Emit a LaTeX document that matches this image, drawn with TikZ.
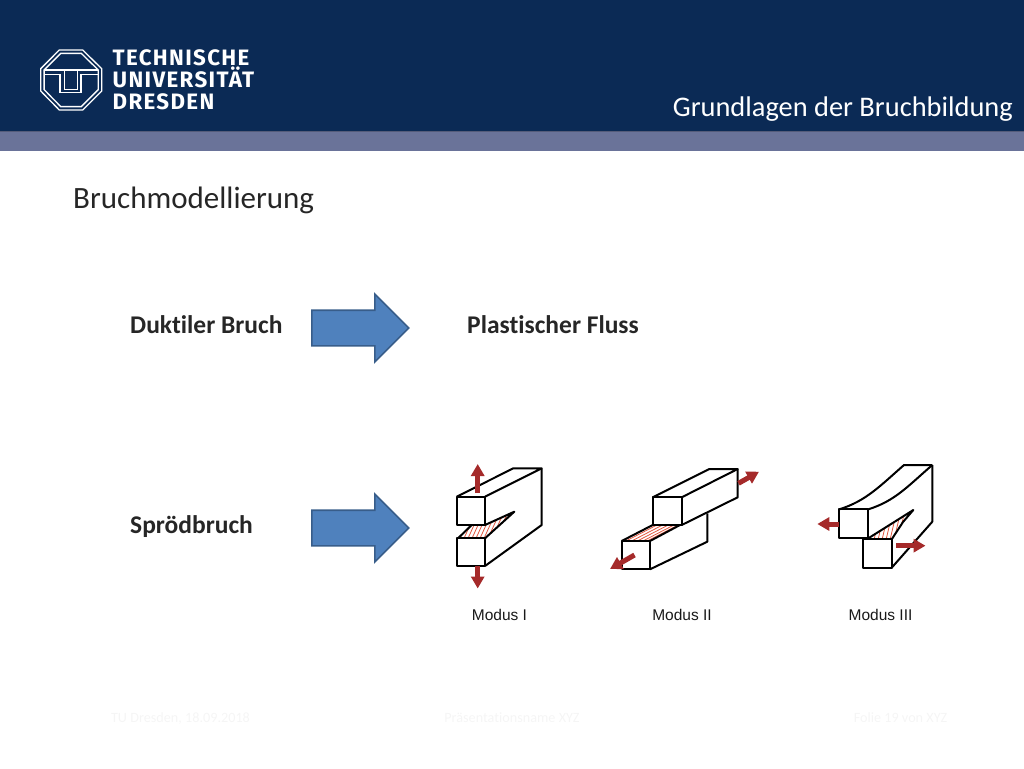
\documentclass[tikz,border=0pt]{standalone}
\usepackage{fontspec}
\setmainfont[Ligatures=CommonOff]{Carlito}
\newfontfamily\logofont[LetterSpace=6]{Fira Sans}
\newfontfamily\labelfont{Liberation Sans}
\usetikzlibrary{shapes,arrows.meta}
\definecolor{tunavy}{HTML}{0B2A55}
\definecolor{tuband}{HTML}{6A7399}
\definecolor{bluefill}{HTML}{4F81BD}
\definecolor{blueline}{HTML}{385D8A}
\definecolor{redarrow}{HTML}{A52A2A}
\definecolor{hatchred}{HTML}{E2573F}
\definecolor{textgrey}{HTML}{262626}
\tikzset{
  logoline/.style={white, line width=1.3pt},
  logotext/.style={anchor=base west, inner sep=0pt, white, font=\logofont\bfseries\fontsize{22.3}{24}\selectfont},
  slidetext/.style={anchor=base west, inner sep=0pt, textgrey, font=\fontsize{25.5}{28}\selectfont\bfseries},
  footertext/.style={anchor=base, inner sep=0pt, black!4, font=\fontsize{14.2}{16}\selectfont},
  modustext/.style={anchor=base, inner sep=0pt, black!90, font=\labelfont\fontsize{15.5}{18}\selectfont},
  bigarrow/.style={single arrow, draw=blueline, fill=bluefill, line width=1.6pt, inner xsep=0pt, inner ysep=17pt,
    minimum height=97pt, single arrow head extend=16.2pt, anchor=west},
  block/.style={black, line width=2pt, line join=round},
  hatch/.style={hatchred, line width=0.8pt},
  pull/.style={redarrow, line width=5pt, -{Triangle[length=12pt,width=13pt]}}
}
\begin{document}
\begin{tikzpicture}[x=1pt,y=-1pt]
\useasboundingbox (0,0) rectangle (1024,768);

% header
\fill [tunavy] (0,0) rectangle (1024,131);
\fill [tuband] (0,131) rectangle (1024,150.5);
\draw [tuband!80!black, line width=0.8pt] (0,131.5) -- (1024,131.5);

% logo
\draw [logoline] (59.3,50) -- (82.7,50) -- (101.7,68.7) -- (101.7,91) -- (82.7,110) -- (59.3,110) -- (40.7,91) -- (40.7,68.7) -- cycle;
\draw [logoline] (60.7,53.4) -- (81.3,53.4) -- (98.3,70) -- (98.3,89.6) -- (81.3,106.6) -- (60.7,106.6) -- (44.1,89.6) -- (44.1,70) -- cycle;
\draw [logoline] (44.1,70) -- (98.3,70);
\draw [logoline] (64.3,70) -- (64.3,89.3) -- (77.7,89.3) -- (77.7,70);
\draw [logoline] (44.1,74.3) -- (60,74.3) -- (60,92.7) -- (81,92.7) -- (81,74.3) -- (98.3,74.3);
\node [logotext] (logoa) at (112.5,66) {TECHNISCHE};
\node [logotext] (logob) at (112.5,87) {UNIVERSITÄT};
\node [logotext] (logoc) at (112.5,109.5) {DRESDEN};

\node [anchor=base east, inner sep=0pt, white, font=\fontsize{28.4}{30}\selectfont] (title) at (1013,116.5) {Grundlagen der Bruchbildung};
\node [anchor=base west, inner sep=0pt, textgrey, font=\fontsize{31}{34}\selectfont] (heading) at (73,208.5) {Bruchmodellierung};

% rows
\node [slidetext] (duktil) at (130,333.5) {Duktiler Bruch};
\node [bigarrow] (arrowa) at (311,328) {};
\node [slidetext] (fluss) at (467,333.5) {Plastischer Fluss};
\node [slidetext] (sproed) at (130,533.5) {Sprödbruch};
\node [bigarrow] (arrowb) at (311,528) {};

% Modus I
\begin{scope}
\clip (458,538.3) -- (471.7,525) -- (485,525) -- (514.3,511.7) -- (485,538.3) -- cycle;
\foreach \x in {456,460,...,516}
  \draw [hatch] (\x,538.3) -- (\x+12,512);
\end{scope}
\draw [block] (456.7,496.7) rectangle (485,525);
\draw [block] (456.7,538.3) rectangle (485,566);
\draw [block] (456.7,496.7) -- (513.3,468.3) -- (541.7,468.3) -- (485,496.7);
\draw [block] (541.7,468.3) -- (541.7,525) -- (485,566);
\draw [block] (485,525) -- (514.3,511.7) -- (485,538.3);
\draw [block] (458,538.3) -- (471.7,525);
\draw [pull] (477.7,493) -- (477.7,464);
\draw [pull] (477.7,566) -- (477.7,588.5);
\node [modustext] (modusa) at (499.5,620.5) {Modus I};

% Modus II
\foreach \t in {0.15,0.35,0.55,0.75,0.9}
  \draw [hatch] (621.7+28.3*\t,541) -- (652.7+28.3*\t,525);
\draw [block] (652.7,497.3) rectangle (681.7,525);
\draw [block] (652.7,497.3) -- (709.3,469) -- (737.7,469) -- (681.7,497.3);
\draw [block] (737.7,469) -- (737.7,497.3) -- (681.7,525);
\draw [block] (621.7,541) rectangle (650,569.3);
\draw [block] (621.7,541) -- (652.7,525);
\draw [block] (650,541) -- (680,525);
\draw [block] (650,569.3) -- (707.3,541.7) -- (707.3,513.3);
\draw [pull] (738.5,483.3) -- (759,471.7);
\draw [pull] (634.5,555) -- (610,569);
\node [modustext] (modusb) at (682,620.5) {Modus II};

% Modus III
\begin{scope}
\clip (868.3,538.8) -- (913.3,510) -- (903,522) -- (891.7,539.3) -- cycle;
\foreach \x in {866,870,...,918}
  \draw [hatch] (\x,540) -- (\x+7,510);
\end{scope}
\draw [block] (839.3,509.3) rectangle (868.3,538.3);
\draw [block] (862.7,539.3) rectangle (891.7,567.7);
\draw [block] (839.3,509.3) .. controls (866,501) and (880,486) .. (904,465) -- (932.3,465);
\draw [block] (868.3,509.3) .. controls (895,501) and (908,486) .. (932.3,465);
\draw [block] (932.3,465) -- (932.3,521.7) -- (891.7,567.7);
\draw [block] (868.3,538.3) -- (913.3,510) -- (903,522) -- (891.7,539.3);
\draw [pull] (839.3,524) -- (817.3,524);
\draw [pull] (896,545.7) -- (925.5,545.7);
\node [modustext] (modusc) at (880.5,620.5) {Modus III};

% footer
\node [footertext] (foota) at (180.5,722) {TU Dresden, 18.09.2018};
\node [footertext] (footb) at (512,722) {Präsentationsname XYZ};
\node [footertext] (footc) at (900.5,722) {Folie 19 von XYZ};
\end{tikzpicture}
\end{document}
